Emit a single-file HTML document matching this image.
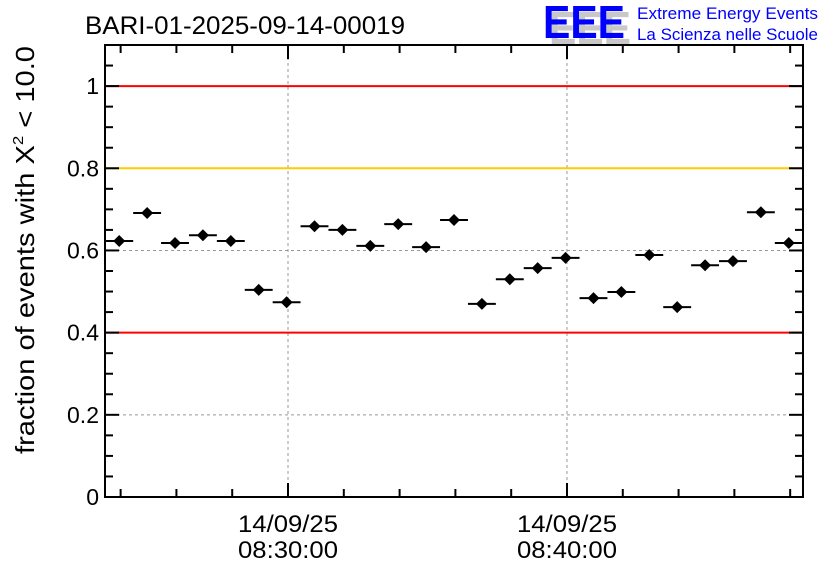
<!DOCTYPE html>
<html><head><meta charset="utf-8"><style>
body{margin:0;background:#fff;}
svg{display:block;font-family:"Liberation Sans",sans-serif;}
</style></head><body>
<svg id="chart" width="836" height="572" viewBox="0 0 836 572">
<text x="85" y="34" font-size="25" fill="#000" textLength="320" lengthAdjust="spacingAndGlyphs">BARI-01-2025-09-14-00019</text>
<g>
<text x="549" y="44" font-size="46" font-weight="bold" fill="#c8c8c8" textLength="82" lengthAdjust="spacingAndGlyphs">EEE</text>
<text x="543" y="38" font-size="46" font-weight="bold" fill="#0000ff" textLength="82" lengthAdjust="spacingAndGlyphs">EEE</text>
<text x="637" y="19" font-size="17" fill="#0000ff" textLength="181" lengthAdjust="spacingAndGlyphs">Extreme Energy Events</text>
<text x="637" y="40" font-size="17" fill="#0000ff" textLength="181" lengthAdjust="spacingAndGlyphs">La Scienza nelle Scuole</text>
</g>
<text transform="translate(34,250) rotate(-90)" text-anchor="middle" font-size="26" fill="#000" textLength="408" lengthAdjust="spacingAndGlyphs">fraction of events with X<tspan dy="-11" font-size="15">2</tspan><tspan dy="11"> &lt; 10.0</tspan></text>
<g id="grid"></g><g id="marks"></g><g id="axes"></g>
</svg>
<script>
const times=[-6.05,-5.05,-4.05,-3.05,-2.05,-1.05,-0.05,0.95,1.95,2.95,3.95,4.95,5.95,6.95,7.95,8.95,9.95,10.95,11.95,12.95,13.95,14.95,15.95,16.95,17.95];
const values=[0.623,0.691,0.618,0.637,0.623,0.504,0.474,0.659,0.650,0.611,0.664,0.608,0.674,0.470,0.530,0.557,0.582,0.484,0.499,0.589,0.462,0.564,0.574,0.693,0.618];
const yTicks=[0,0.2,0.4,0.6,0.8,1];
const yTickLabels=["0","0.2","0.4","0.6","0.8","1"];
const xMajor=[0,10];
const xLabels1=["14/09/25","14/09/25"];
const xLabels2=["08:30:00","08:40:00"];
const refLines=[{v:1,c:"#ff0000"},{v:0.8,c:"#ffcc00"},{v:0.4,c:"#ff0000"}];
const L=105,R=803,T=45,B=497;
const xMin=-6.56,xMax=18.46,yMin=0,yMax=1.1;
const X=t=>L+(t-xMin)/(xMax-xMin)*(R-L);
const Y=v=>B-(v-yMin)/(yMax-yMin)*(B-T);
const NS="http://www.w3.org/2000/svg";
function mk(tag,attrs,parent){const e=document.createElementNS(NS,tag);for(const k in attrs)e.setAttribute(k,attrs[k]);parent.appendChild(e);return e;}
const grid=document.getElementById('grid'),marks=document.getElementById('marks'),axes=document.getElementById('axes');
[0.2,0.6].forEach(v=>{const l=mk('line',{x1:L,x2:R,y1:Y(v),y2:Y(v),stroke:'#999','stroke-dasharray':'3,3','stroke-width':1},grid);

});
xMajor.forEach(t=>{const l=mk('line',{x1:X(t),x2:X(t),y1:T,y2:B,stroke:'#999','stroke-dasharray':'3,3','stroke-width':1},grid);

});
refLines.forEach(r=>{const l=mk('line',{x1:L,x2:R,y1:Y(r.v),y2:Y(r.v),stroke:r.c,'stroke-width':2},marks);

});
times.forEach((t,i)=>{const g=mk('g',{},marks);


const y=Y(values[i]);
mk('line',{x1:Math.max(L,X(t-0.5)),x2:Math.min(R,X(t+0.5)),y1:y,y2:y,stroke:'#000','stroke-width':2},g);
mk('path',{d:`M${X(t)-6},${y} L${X(t)},${y-6} L${X(t)+6},${y} L${X(t)},${y+6} Z`,fill:'#000'},g);});
const fr=mk('rect',{x:L,y:T,width:R-L,height:B-T,fill:'none',stroke:'#000','stroke-width':2},axes);


for(let v=0;v<=1.1001;v+=0.05){const maj=Math.abs(v/0.2-Math.round(v/0.2))<1e-6;const len=maj?14:8;
mk('line',{x1:L,x2:L+len,y1:Y(v),y2:Y(v),stroke:'#000','stroke-width':2},axes);
mk('line',{x1:R,x2:R-len,y1:Y(v),y2:Y(v),stroke:'#000','stroke-width':2},axes);}
for(let t=-6;t<=18;t+=2){const maj=(t%10===0);const len=maj?14:8;
mk('line',{x1:X(t),x2:X(t),y1:B,y2:B-len,stroke:'#000','stroke-width':2},axes);
mk('line',{x1:X(t),x2:X(t),y1:T,y2:T+len,stroke:'#000','stroke-width':2},axes);}
yTicks.forEach((v,i)=>{const tx=mk('text',{x:L-6,y:Y(v)+8,'text-anchor':'end','font-size':23},axes);tx.textContent=yTickLabels[i];

});
xMajor.forEach((t,i)=>{const a=mk('text',{x:X(t),y:532,'text-anchor':'middle','font-size':24,textLength:100,lengthAdjust:'spacingAndGlyphs'},axes);a.textContent=xLabels1[i];


const b=mk('text',{x:X(t),y:558,'text-anchor':'middle','font-size':24,textLength:100,lengthAdjust:'spacingAndGlyphs'},axes);b.textContent=xLabels2[i];

});
</script>
</body></html>
